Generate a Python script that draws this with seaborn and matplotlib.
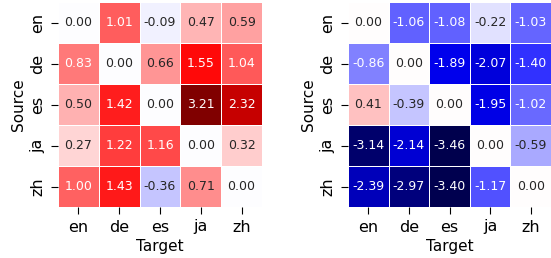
import numpy as np
import pandas as pd
import seaborn as sns
import matplotlib
matplotlib.use('Agg')
import matplotlib.pyplot as plt

langs = ['en', 'de', 'es', 'ja', 'zh']

# izquierda
left_vals = [
    [0.00, 1.01, -0.09, 0.47, 0.59],
    [0.83, 0.00, 0.66, 1.55, 1.04],
    [0.50, 1.42, 0.00, 3.21, 2.32],
    [0.27, 1.22, 1.16, 0.00, 0.32],
    [1.00, 1.43, -0.36, 0.71, 0.00],
]

# derecha
right_vals = [
    [0.00, -1.06, -1.08, -0.22, -1.03],
    [-0.86, 0.00, -1.89, -2.07, -1.40],
    [0.41, -0.39, 0.00, -1.95, -1.02],
    [-3.14, -2.14, -3.46, 0.00, -0.59],
    [-2.39, -2.97, -3.40, -1.17, 0.00],
]

df_left = pd.DataFrame(left_vals, index=langs, columns=langs)
df_right = pd.DataFrame(right_vals, index=langs, columns=langs)

fig = plt.figure(figsize=(5.51, 2.58), dpi=100)
ax1 = fig.add_axes([58/551, 51/258, 204/551, 205/258])
ax2 = fig.add_axes([348/551, 51/258, 203/551, 205/258])

for ax, df in [(ax1, df_left), (ax2, df_right)]:
    sns.heatmap(df, ax=ax, cmap='seismic', center=0, annot=True, fmt='.2f',
                cbar=False, linewidths=0.6, linecolor='white',
                annot_kws={'fontsize': 9})
    ax.set_xlabel('Target', fontsize=11, labelpad=3)
    ax.set_ylabel('Source', fontsize=11, labelpad=3)
    ax.tick_params(labelsize=11.5, length=5, pad=4)

plt.savefig('out.png', dpi=100)
plt.close()
